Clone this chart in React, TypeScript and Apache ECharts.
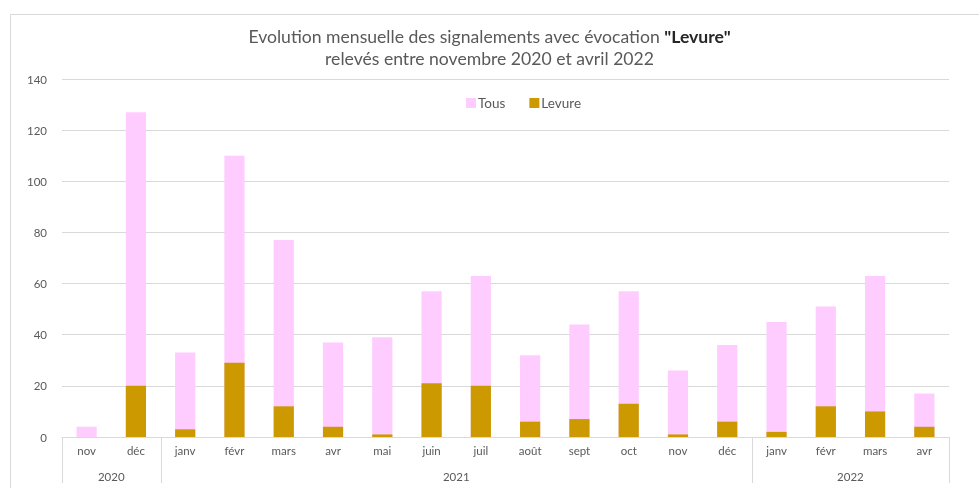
import React, { useEffect, useRef } from "react";
import * as echarts from "echarts";

const months = ["nov", "déc", "janv", "févr", "mars", "avr", "mai", "juin", "juil", "août", "sept", "oct", "nov", "déc", "janv", "févr", "mars", "avr"];
const years = ["2020", "2020", "2021", "2021", "2021", "2021", "2021", "2021", "2021", "2021", "2021", "2021", "2021", "2021", "2022", "2022", "2022", "2022"];
const tous = [4, 127, 33, 110, 77, 37, 39, 57, 63, 32, 44, 57, 26, 36, 45, 51, 63, 17];
const levure = [0, 20, 3, 29, 12, 4, 1, 21, 20, 6, 7, 13, 1, 6, 2, 12, 10, 4];
const yTicks = { min: 0, max: 140, interval: 20 };

const FONT = "Lato, 'Open Sans', sans-serif";
const TXT = "#595959";

export default function App() {
  const ref = useRef<HTMLDivElement>(null);
  useEffect(() => {
    if (!ref.current) return;
    const chart = echarts.init(ref.current, null, { renderer: "svg" });
    const gridTop = 79;
    const gridBottom = 51;
    const H = 488;
    chart.setOption({
      animation: false,
      textStyle: { fontFamily: FONT },
      title: {
        left: "center",
        top: 20,
        text: '{a|Evolution mensuelle des signalements avec évocation }{b|"Levure"}\n{a|relevés entre novembre 2020 et avril 2022}',
        textStyle: {
          fontWeight: "normal",
          rich: {
            a: { fontFamily: FONT, fontSize: 17.6, color: TXT, fontWeight: "normal", lineHeight: 22 },
            b: { fontFamily: FONT, fontSize: 17.6, color: "#262626", fontWeight: "bold", lineHeight: 22 },
          },
        },
      },
      legend: {
        left: 461,
        top: 91,
        icon: "rect",
        itemWidth: 10,
        itemHeight: 10,
        itemGap: 24,
        textStyle: { color: TXT, fontSize: 13.5, fontFamily: FONT, padding: [0, 0, 0, -3] },
        data: ["Tous", "Levure"],
      },
      grid: { left: 62, right: 30, top: gridTop, bottom: gridBottom, containLabel: false },
      xAxis: {
        type: "category",
        data: months.map((m, i) => i),
        axisLine: { lineStyle: { color: "#d9d9d9" } },
        axisTick: { show: false },
        axisLabel: {
          color: TXT,
          fontSize: 11.5,
          fontFamily: FONT,
          margin: 7,
          formatter: (v: string) => months[Number(v)],
        },
      },
      yAxis: {
        type: "value",
        min: yTicks.min,
        max: yTicks.max,
        interval: yTicks.interval,
        axisLine: { show: false },
        axisTick: { show: false },
        axisLabel: { color: TXT, fontSize: 11.5, fontFamily: FONT, margin: 15 },
        splitLine: { lineStyle: { color: "#d9d9d9" } },
      },
      series: [
        {
          name: "Tous",
          type: "bar",
          data: tous,
          barWidth: "41%",
          barGap: "-100%",
          itemStyle: { color: "#FFCCFF" },
        },
        {
          name: "Levure",
          type: "bar",
          data: levure,
          barWidth: "41%",
          barGap: "-100%",
          itemStyle: { color: "#CC9900" },
        },
      ],
    });

    const c0 = chart.convertToPixel({ xAxisIndex: 0 }, 0) as number;
    const c1 = chart.convertToPixel({ xAxisIndex: 0 }, 1) as number;
    const bw = c1 - c0;
    const axisY = H - gridBottom;
    const graphics: any[] = [
      {
        type: "rect",
        shape: { x: 10.5, y: 14.5, width: 1000, height: 500 },
        style: { fill: "none", stroke: "#d9d9d9", lineWidth: 1 },
        silent: true,
      },
    ];
    const groups: { year: string; start: number; end: number }[] = [];
    years.forEach((y, i) => {
      const g = groups[groups.length - 1];
      if (g && g.year === y) g.end = i;
      else groups.push({ year: y, start: i, end: i });
    });
    const bounds: number[] = [];
    groups.forEach((g, k) => {
      const left = (chart.convertToPixel({ xAxisIndex: 0 }, g.start) as number) - bw / 2;
      const right = (chart.convertToPixel({ xAxisIndex: 0 }, g.end) as number) + bw / 2;
      if (k === 0) bounds.push(left);
      bounds.push(right);
      graphics.push({
        type: "text",
        x: (left + right) / 2,
        y: axisY + 39,
        style: { text: g.year, fill: TXT, fontSize: 11.5, fontFamily: FONT, align: "center", verticalAlign: "middle" },
        silent: true,
      });
    });
    bounds.forEach((b) => {
      const x = Math.round(b) + 0.5;
      graphics.push({
        type: "line",
        shape: { x1: x, y1: axisY, x2: x, y2: axisY + 46 },
        style: { stroke: "#d9d9d9", lineWidth: 1 },
        silent: true,
      });
    });
    chart.setOption({ graphic: graphics });

    return () => chart.dispose();
  }, []);
  return <div ref={ref} style={{ position: "fixed", left: 0, top: 0, width: 979, height: 488 }} />;
}
